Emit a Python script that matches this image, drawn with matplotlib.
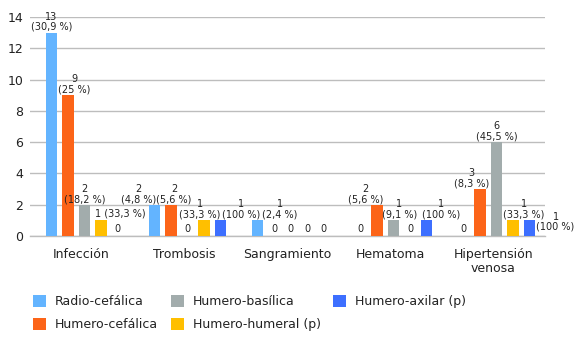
import matplotlib
matplotlib.use("Agg")
import matplotlib.pyplot as plt
from matplotlib.patches import Patch
import numpy as np

plt.rcParams['font.family'] = ['DejaVu Sans']

categories = ["Infección", "Trombosis", "Sangramiento", "Hematoma", "Hipertensión\nvenosa"]
series_names = ["Radio-cefálica", "Humero-cefálica", "Humero-basílica",
                "Humero-humeral (p)", "Humero-axilar (p)"]
radio_cefalica = [13, 2, 1, 0, 0]
humero_cefalica = [9, 2, 0, 2, 3]
humero_basilica = [2, 0, 0, 1, 6]
humero_humeral = [1, 1, 0, 0, 1]
humero_axilar = [0, 1, 0, 1, 1]
pct_radio_cefalica = ["30,9", "4,8", "2,4", "", ""]
pct_humero_cefalica = ["25", "5,6", "", "5,6", "8,3"]
pct_humero_basilica = ["18,2", "", "", "9,1", "45,5"]
pct_humero_humeral = ["33,3", "33,3", "", "", "33,3"]
pct_humero_axilar = ["", "100", "", "100", "100"]
y_ticks = [0, 2, 4, 6, 8, 10, 12, 14]

values = [radio_cefalica, humero_cefalica, humero_basilica, humero_humeral, humero_axilar]
pcts = [pct_radio_cefalica, pct_humero_cefalica, pct_humero_basilica,
        pct_humero_humeral, pct_humero_axilar]
colors = ["#63B4FF", "#FC6418", "#A2ACAC", "#FFBF00", "#3D6FFF"]

# label placement tweaks (style): (series, category) -> (mode, ha, dx_px)
tweaks = {
    (1, 0): ("above", "left", -10),
    (3, 0): ("inline", "left", -6),
    (0, 1): ("above", "right", 2),
    (1, 1): ("above", "center", 3),
    (3, 1): ("above", "center", -4),
    (4, 1): ("above", "left", 1),
    (0, 2): ("above", "left", 5),
    (1, 3): ("above", "right", 6),
    (2, 3): ("above", "center", 6),
    (4, 3): ("above", "left", -5),
    (1, 4): ("above", "right", 9),
    (3, 4): ("above", "left", -10),
    (4, 4): ("right", "left", 7),
}

W, H = 580, 350
fig = plt.figure(figsize=(W / 100, H / 100), dpi=100)
ax = fig.add_axes([30 / W, 1 - 236 / H, 515 / W, 219 / H])

px = 103.0  # pixels per category
x = np.arange(len(categories))
step = 16.5 / px
width = 11.5 / px
group_shift = 3 / px

fs_lab = 7
for j, (vals, col) in enumerate(zip(values, colors)):
    xpos = x + group_shift + (j - 2) * step
    ax.bar(xpos, vals, width=width, color=col, zorder=3, linewidth=0)
    for i, (xv, v) in enumerate(zip(xpos, vals)):
        if v == 0:
            ax.annotate("0", (xv, 0), xytext=(0, 1.5), textcoords="offset points",
                        ha="center", va="bottom", fontsize=fs_lab, color="#222222")
            continue
        mode, ha, dx = tweaks.get((j, i), ("above", "center", 0))
        txt = f"{v}\n({pcts[j][i]} %)"
        if mode == "above":
            ax.annotate(txt, (xv, v), xytext=(dx * 0.72, 0.5), textcoords="offset points",
                        ha=ha, va="bottom", fontsize=fs_lab, color="#222222",
                        multialignment="center", linespacing=1.05)
        elif mode == "inline":
            ax.annotate(f"{v} ({pcts[j][i]} %)", (xv, v), xytext=(dx * 0.72, 1),
                        textcoords="offset points", ha=ha, va="bottom", fontsize=fs_lab,
                        color="#222222")
        else:
            ax.annotate(txt, (xv, v), xytext=(dx * 0.72, -1), textcoords="offset points",
                        ha=ha, va="center", fontsize=fs_lab, color="#222222",
                        multialignment="center", linespacing=1.05)

ax.set_xlim(-0.5, 4.5)
ax.set_ylim(0, 14)
ax.set_yticks(y_ticks)
ax.set_xticks(x)
ax.set_xticklabels(categories, fontsize=9, color="#222222", linespacing=1.1)
ax.tick_params(axis="y", length=0, pad=5, labelsize=9, labelcolor="#222222")
ax.tick_params(axis="x", length=0, pad=8.5)
ax.grid(axis="y", color="#BDBDBD", linewidth=1, zorder=0)
for s in ["top", "right", "left"]:
    ax.spines[s].set_visible(False)
ax.spines["bottom"].set_color("#BDBDBD")
ax.spines["bottom"].set_linewidth(1)

handles = [Patch(facecolor=c, edgecolor="none", label=n) for c, n in zip(colors, series_names)]
fig.legend(handles=handles, ncol=3, loc="upper left",
           bbox_to_anchor=(33 / W, 1 - 295 / H), frameon=False, fontsize=9,
           handlelength=1.04, handleheight=1.04, handletextpad=0.72,
           columnspacing=1.0, labelspacing=0.83, borderpad=0, borderaxespad=0,
           labelcolor="#222222")

fig.savefig("out.png", dpi=100)
